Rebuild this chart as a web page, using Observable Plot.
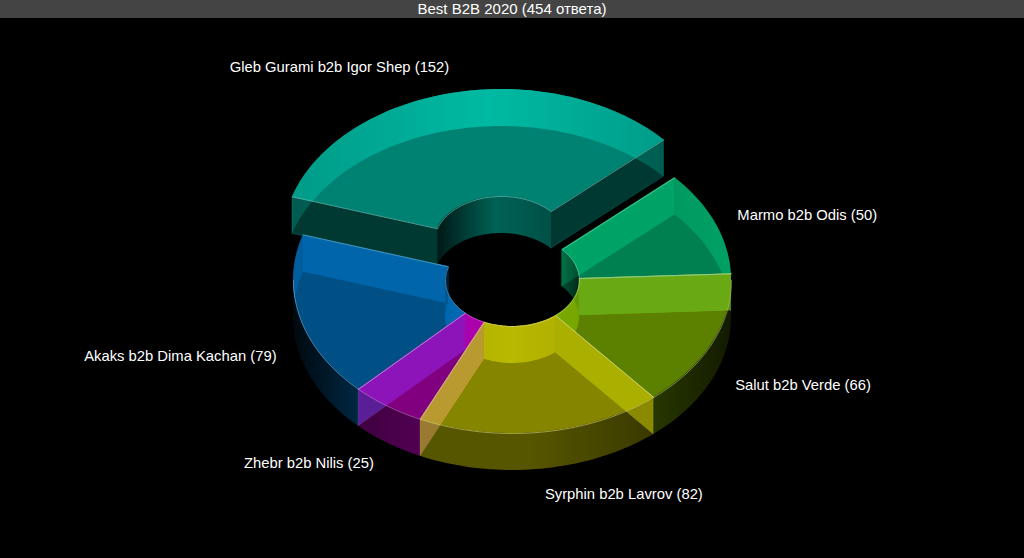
<!DOCTYPE html>
<html>
<head>
<meta charset="utf-8">
<script src="https://cdn.jsdelivr.net/npm/d3@7"></script>
<script src="https://cdn.jsdelivr.net/npm/@observablehq/plot@0.6"></script>
<style>
  html, body { margin: 0; padding: 0; background: #000; overflow: hidden; }
  #title { height: 18px; line-height: 18px; background: #444; color: #fff; text-align: center;
           font: 15px/18px "Liberation Sans", Arial, sans-serif; }
  svg { display: block; }
</style>
</head>
<body>
<div id="title">Best B2B 2020 (454 ответа)</div>
<div id="chart"></div>
<script>
const names = ["Salut b2b Verde", "Syrphin b2b Lavrov", "Zhebr b2b Nilis", "Akaks b2b Dima Kachan", "Gleb Gurami b2b Igor Shep", "Marmo b2b Odis"];
const values = [66, 82, 25, 79, 152, 50];
const colors = ["#7eaf00", "#b6b600", "#af00af", "#006cb6", "#00b29c", "#00af6e"];
const exploded = ["Gleb Gurami b2b Igor Shep"];
// where two wedges share a wall: colour seen through the top face, and seen directly
const seamBand = ["rgb(105,170,20)", "rgb(170,175,0)", "rgb(184,154,48)", "rgb(140,20,185)"];
const seamDirect = ["rgb(95,140,10)", "rgb(138,138,0)", "rgb(154,122,48)", "rgb(90,30,150)"];

// Layout of the projected ring
const W = 1024, H = 558, TOP = 18;
const cx = 512, cy = 280, rx = 219, ry = 153, irx = 67, iry = 46, depth = 37;
const startAngle = -2.5, ex = -11, ey = -38;
const TOP_ALPHA = 0.73;

const total = d3.sum(values);
let acc = startAngle;
const wedges = names.map((name, i) => {
  const t1 = acc, t2 = acc + values[i] / total * 360;
  acc = t2;
  const off = exploded.includes(name);
  return {name, value: values[i], color: colors[i], i, t1, t2, mid: (t1 + t2) / 2, dx: off ? ex : 0, dy: off ? ey : 0};
});
const seamAngles = [wedges[0].t1, wedges[0].t2, wedges[1].t2, wedges[2].t2];

const rad = d => d * Math.PI / 180;
const pt = (w, t, a, b, s = 0) => ({x: cx + w.dx + a * Math.cos(rad(t)), y: cy + w.dy + b * Math.sin(rad(t)) + s});
const angles = (a, b) => { const n = Math.max(2, Math.ceil((b - a) / 1.5)); return d3.range(n + 1).map(k => a + (b - a) * k / n); };
const strip = (list, f, g) => list.map(t => { const p = f(t), q = g(t); return {x1: p.x, y1: p.y, x2: q.x, y2: q.y}; });
function split(a, b) {
  const cuts = [a];
  for (const c of [-360, -180, 0, 180, 360, 540]) if (c > a && c < b) cuts.push(c);
  cuts.push(b);
  return d3.pairs(cuts).map(([p, q]) => ({a: p, b: q, front: Math.sin(rad((p + q) / 2)) > 0}));
}
const shaded = (hex, k) => { const c = d3.rgb(hex); return d3.rgb(Math.min(255, c.r * k), Math.min(255, c.g * k), Math.min(255, c.b * k)).formatRgb(); };

const outerStops = [[294, .08], [358, .36], [420, .47], [530, .47], [650, .32], [731, .15]];
const rearStops = [[294, .5], [500, 1.15], [675, .55], [731, .7]];
const holeBackStops = [[445, .16], [506, .73], [562, .6], [579, .33]];
const holeFrontStops = [[445, .85], [510, 1.05], [579, .8]];

function defsMark() {
  const svg = d3.create("svg:defs");
  const add = (id, color, stops, dx) => {
    const g = svg.append("linearGradient").attr("id", id).attr("gradientUnits", "userSpaceOnUse")
      .attr("x1", stops[0][0] + dx).attr("x2", stops[stops.length - 1][0] + dx).attr("y1", 0).attr("y2", 0);
    const span = stops[stops.length - 1][0] - stops[0][0];
    for (const [x, k] of stops) g.append("stop").attr("offset", (x - stops[0][0]) / span).attr("stop-color", shaded(color, k));
  };
  for (const w of wedges) {
    add(`outer${w.i}`, w.color, outerStops, w.dx);
    add(`rear${w.i}`, w.color, rearStops, w.dx);
    add(`hback${w.i}`, w.color, holeBackStops, w.dx);
    add(`hfront${w.i}`, w.color, holeFrontStops, w.dx);
  }
  return svg.node();
}

const radial = (w, t) => {
  const p = pt(w, t, irx, iry), q = pt(w, t, irx, iry, depth), r = pt(w, t, rx, ry), s = pt(w, t, rx, ry, depth);
  return [{x1: p.x, y1: p.y, x2: q.x, y2: q.y}, {x1: r.x, y1: r.y, x2: s.x, y2: s.y}];
};

const rearWalls = [], frontWalls = [], seamWalls = [], topFaces = [], bands = [], edges = [];
const base = {dx: 0, dy: 0};
seamAngles.forEach((t, i) => {
  seamWalls.push({data: radial(base, t), fill: seamDirect[i], opacity: 1, stroke: "#fff", strokeOpacity: .12});
  // the part of the seam wall that lies under a top face
  const a = pt(base, t, irx, iry), b = pt(base, t, rx, ry);
  bands.push({fill: seamBand[i], opacity: 1, data: d3.range(41).map(k => {
    const x = a.x + (b.x - a.x) * k / 40, y = a.y + (b.y - a.y) * k / 40;
    const limit = cy + ry * Math.sqrt(Math.max(0, 1 - ((x - cx) / rx) ** 2));
    return {x1: x, y1: y, x2: x, y2: Math.max(y, Math.min(y + depth, limit))};
  })});
});
const isSeam = t => seamAngles.some(s => Math.abs(s - t) < 1e-6 || Math.abs(s + 360 - t) < 1e-6);

for (const w of wedges) {
  for (const [t, other] of [[w.t1, 1], [w.t2, -1]]) {
    if (isSeam(t)) continue;
    const isRear = other * Math.cos(rad(t)) > 0;
    (isRear ? rearWalls : frontWalls).push({
      data: radial(w, t),
      fill: isRear ? w.color : shaded(w.color, .5),
      opacity: isRear ? .75 : .64,
      stroke: shaded(w.color, 1.3), strokeOpacity: .25
    });
  }
  for (const s of split(w.t1, w.t2)) {
    const list = angles(s.a, s.b);
    const outer = strip(list, t => pt(w, t, rx, ry), t => pt(w, t, rx, ry, depth));
    const inner = strip(list, t => pt(w, t, irx, iry), t => pt(w, t, irx, iry, depth));
    if (s.front) {
      frontWalls.push({data: outer, fill: `url(#outer${w.i})`, opacity: 1});
      rearWalls.push({data: inner, fill: `url(#hfront${w.i})`, opacity: 1});
    } else {
      rearWalls.push({data: outer, fill: `url(#rear${w.i})`, opacity: 1});
      frontWalls.push({data: inner, fill: `url(#hback${w.i})`, opacity: .75});
    }
  }
  const list = angles(w.t1, w.t2);
  topFaces.push({data: strip(list, t => pt(w, t, irx, iry), t => pt(w, t, rx, ry)), fill: w.color, opacity: TOP_ALPHA});
  edges.push({data: [pt(w, w.t1, rx, ry), ...list.map(t => pt(w, t, irx, iry)), pt(w, w.t2, rx, ry)], color: w.color});
  for (const s of split(w.t1, w.t2)) if (s.front) edges.push({data: angles(s.a, s.b).map(t => pt(w, t, rx, ry)), color: w.color});
}

const toArea = p => Plot.area(p.data, {x1: "x1", y1: "y1", x2: "x2", y2: "y2", fill: p.fill, fillOpacity: p.opacity,
  stroke: p.stroke ?? "none", strokeOpacity: p.strokeOpacity ?? 1, strokeWidth: .7});

const labels = wedges.map(w => {
  const c = Math.cos(rad(w.mid)), s = Math.sin(rad(w.mid));
  return {
    text: `${w.name} (${w.value})`,
    x: cx + w.dx + 1.11 * rx * c,
    y: cy + w.dy + 1.206 * ry * s + (s > 0 ? 31 : 5),
    right: c > 0
  };
});
const labelOpts = {x: "x", y: "y", text: "text", fill: "#fff", fontSize: 14.8, fontFamily: "Liberation Sans, Arial, sans-serif"};

const chart = Plot.plot({
  width: W, height: H - TOP,
  margin: 0,
  style: {background: "#000"},
  x: {domain: [0, W], range: [0, W], axis: null},
  y: {domain: [TOP, H], range: [0, H - TOP], axis: null},
  marks: [
    defsMark,
    ...rearWalls.map(toArea),
    ...frontWalls.map(toArea),
    ...seamWalls.map(toArea),
    ...topFaces.map(toArea),
    ...bands.map(toArea),
    ...edges.map(e => Plot.line(e.data, {x: "x", y: "y", stroke: d3.interpolateRgb(e.color, "#fff")(.5), strokeWidth: .8, strokeOpacity: .7})),
    Plot.text(labels.filter(d => d.right), {...labelOpts, textAnchor: "start"}),
    Plot.text(labels.filter(d => !d.right), {...labelOpts, textAnchor: "end"})
  ]
});
document.getElementById("chart").append(chart);
</script>
</body>
</html>
